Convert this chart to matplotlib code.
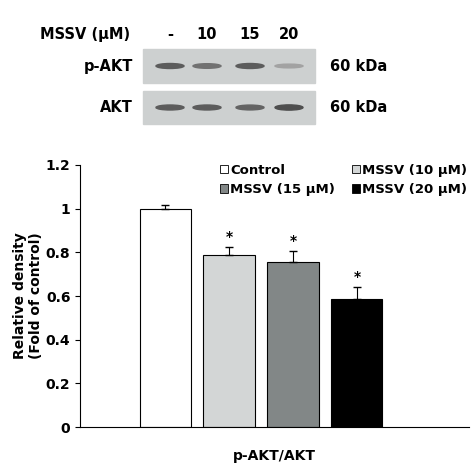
import matplotlib
matplotlib.use("Agg")
import matplotlib.pyplot as plt
from matplotlib.patches import Rectangle, Ellipse

labels = ["Control", "MSSV (10 μM)", "MSSV (15 μM)", "MSSV (20 μM)"]
values = [1.0, 0.79, 0.755, 0.585]
errors = [0.015, 0.035, 0.05, 0.055]
colors = ["white", "#d3d6d6", "#828787", "black"]
lanes = ["-", "10", "15", "20"]
pakt_band = [0.8, 0.65, 0.8, 0.3]
akt_band = [0.8, 0.8, 0.75, 0.9]

plt.rcParams["font.weight"] = "bold"
fig = plt.figure(figsize=(4.74, 4.74), dpi=100)

# blot panel
bl = fig.add_axes([0, 0, 1, 1], facecolor="none")
bl.set_xlim(0, 474); bl.set_ylim(474, 0); bl.axis("off")
bl.text(130, 34, "MSSV (μM)", ha="right", va="center", fontsize=10.5)
lane_x = [170, 207, 250, 289]
for x, t in zip(lane_x, lanes):
    bl.text(x, 34, t, ha="center", va="center", fontsize=10.5)
for y0, y1, name, band in [(49, 83, "p-AKT", pakt_band), (91, 124, "AKT", akt_band)]:
    bl.add_patch(Rectangle((143, y0), 172, y1 - y0, color="#cdd0d0"))
    for x, b in zip(lane_x, band):
        g = 0.25 + 0.55 * (1 - b)
        bl.add_patch(Ellipse((x, (y0 + y1) / 2), 28, 3 + 2.5 * b, color=(g, g, g)))
    bl.text(133, (y0 + y1) / 2, name, ha="right", va="center", fontsize=10.5)
    bl.text(330, (y0 + y1) / 2, "60 kDa", ha="left", va="center", fontsize=10.5)

ax = fig.add_axes([0.169, 0.099, 0.82, 0.553])
x = [0, 1, 2, 3]
ax.bar(x, values, width=0.8, color=colors, edgecolor="black", linewidth=0.8,
       yerr=[[0] * 4, errors], error_kw=dict(ecolor="black", capsize=3, elinewidth=0.8))
for i in range(1, 4):
    ax.text(x[i], values[i] + errors[i] + 0.015, "*", ha="center", va="bottom", fontsize=10)
ax.set_xlim(-1.33, 4.75)
ax.set_ylim(0, 1.2)
ax.set_yticks([0, 0.2, 0.4, 0.6, 0.8, 1, 1.2])
ax.set_yticklabels(["0", "0.2", "0.4", "0.6", "0.8", "1", "1.2"], fontsize=10)
ax.set_xticks([])
ax.spines[["top", "right"]].set_visible(False)
ax.set_xlabel("p-AKT/AKT", fontsize=10, fontweight="bold", labelpad=16)
ax.set_ylabel("Relative density\n(Fold of control)", fontsize=10, fontweight="bold", labelpad=2)
handles = [Rectangle((0, 0), 1, 1, facecolor=c, edgecolor="black", linewidth=0.6) for c in colors]
order = [0, 2, 1, 3]
ax.legend([handles[i] for i in order], [labels[i] for i in order], ncol=2, frameon=False,
          loc="upper left", bbox_to_anchor=(0.33, 1.05), fontsize=9.5, handlelength=0.6,
          handleheight=0.6, handletextpad=0.15, columnspacing=1.3)
fig.savefig("out.png", dpi=100)
